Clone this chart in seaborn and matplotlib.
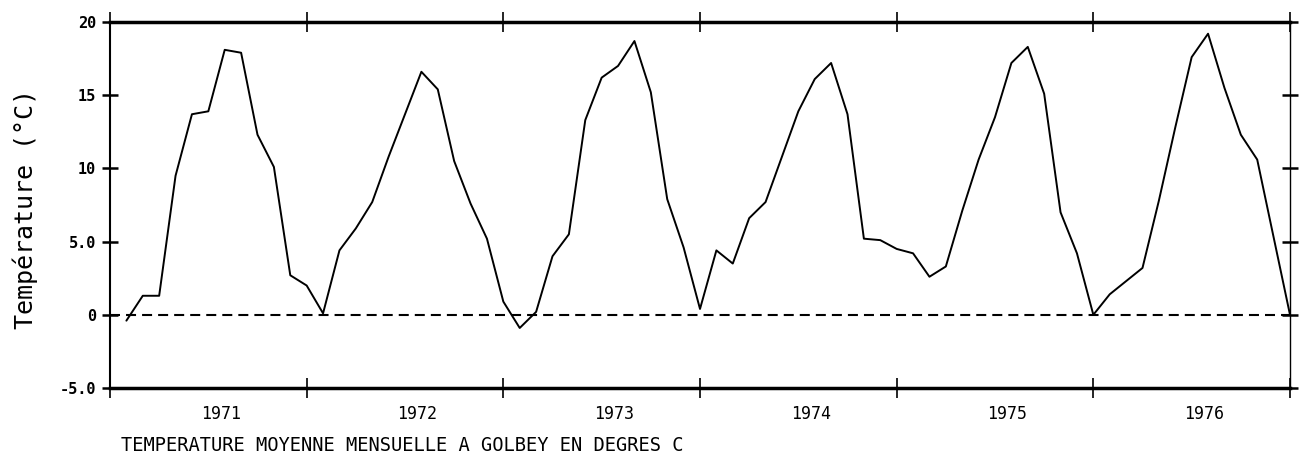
# Monthly mean temperature at Golbey, 1970-1976 (plotter-style chart)
import numpy as np
import pandas as pd
import matplotlib
matplotlib.use("Agg")
import matplotlib.pyplot as plt
import seaborn as sns

# Data
months = list(range(1, 73))
temperatures = [
    -0.4, 1.3, 1.3, 9.5, 13.7, 13.9, 18.1, 17.9, 12.3, 10.1, 2.7, 2.0,
    0.1, 4.4, 5.9, 7.7, 10.8, 13.7, 16.6, 15.4, 10.5, 7.6, 5.2, 0.9,
    -0.9, 0.2, 4.0, 5.5, 13.3, 16.2, 17.0, 18.7, 15.2, 7.9, 4.6, 0.4,
    4.4, 3.5, 6.6, 7.7, 10.8, 13.9, 16.1, 17.2, 13.7, 5.2, 5.1, 4.5,
    4.2, 2.6, 3.3, 7.1, 10.6, 13.5, 17.2, 18.3, 15.1, 7.0, 4.2, 0.0,
    1.4, 2.3, 3.2, 7.8, 12.8, 17.6, 19.2, 15.5, 12.3, 10.6, 5.3, 0.0,
]
year_labels = ["1971", "1972", "1973", "1974", "1975", "1976"]
y_ticks = [-5, 0, 5, 10, 15, 20]
y_tick_labels = ["-5.0", "0", "5.0", "10", "15", "20"]

df = pd.DataFrame({"month": months, "temp": temperatures})

sns.set_theme(style="ticks")
plt.rcParams["font.family"] = ["DejaVu Sans Mono", "DejaVu Sans"]
plt.rcParams["text.color"] = "black"
plt.rcParams["axes.labelcolor"] = "black"
plt.rcParams["xtick.color"] = "black"
plt.rcParams["ytick.color"] = "black"

fig = plt.figure(figsize=(13.06, 4.61), dpi=100)
ax = fig.add_axes([110 / 1306, 1 - 388 / 461, 1180 / 1306, 366 / 461])

sns.lineplot(data=df, x="month", y="temp", color="black", linewidth=1.4, ax=ax)
ax.axhline(0, color="black", linewidth=1.5, linestyle=(0, (4.8, 2.9)))

ax.set_xlim(0, 72)
ax.set_ylim(-5, 20)

# year boundaries as major ticks, year names centred in between
ax.set_xticks(range(0, 73, 12))
ax.set_xticklabels([])
ax.set_xticks([6.75 + 12 * i for i in range(6)], minor=True)
ax.set_xticklabels(year_labels, minor=True, fontsize=12)
ax.tick_params(axis="x", which="minor", length=0, pad=12)
ax.tick_params(axis="x", which="major", direction="inout", length=14, width=1.2,
               top=True, bottom=True)

ax.set_yticks(y_ticks)
ax.set_yticklabels(y_tick_labels, fontsize=11, fontweight="bold")
ax.tick_params(axis="y", direction="inout", length=12, width=1.8,
               left=True, right=True, pad=4)

for side, lw in [("top", 2.5), ("bottom", 2.5), ("left", 1.5), ("right", 1.0)]:
    ax.spines[side].set_visible(True)
    ax.spines[side].set_linewidth(lw)
    ax.spines[side].set_color("black")

ax.set_xlabel("")
ax.set_ylabel("Température (°C)", fontsize=18)
ax.yaxis.set_label_coords(-0.061, 0.49)

fig.text(121 / 1306, 1 - 445 / 461, "TEMPERATURE MOYENNE MENSUELLE A GOLBEY EN DEGRES C",
         fontsize=13.5, ha="left", va="center")

fig.savefig("out.png", dpi=100, facecolor="white")
